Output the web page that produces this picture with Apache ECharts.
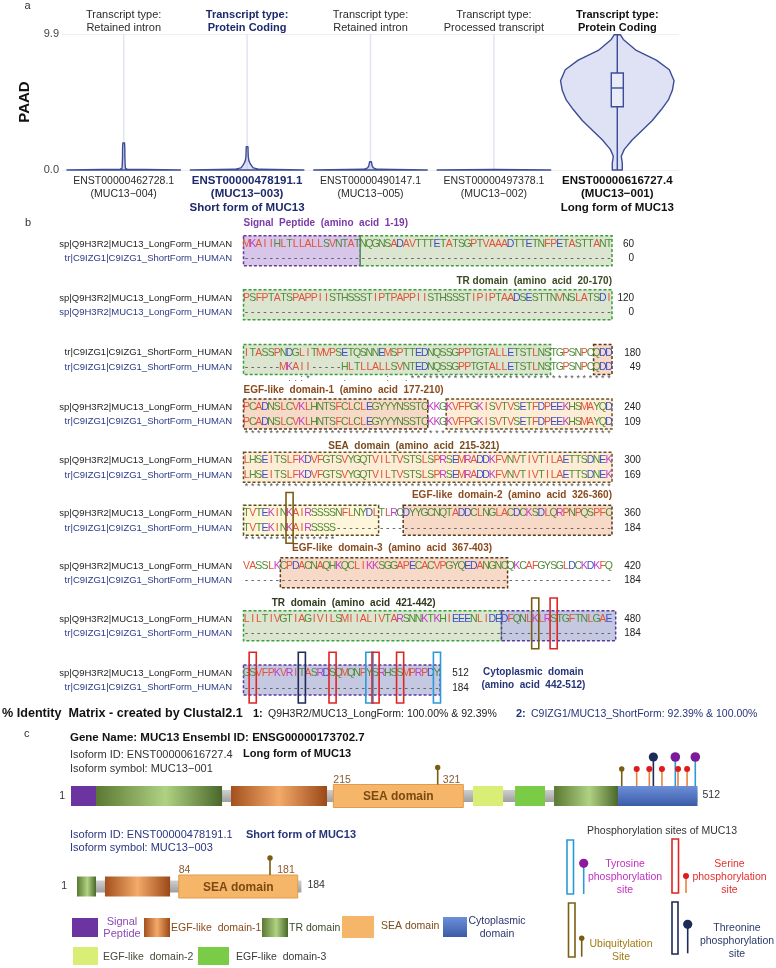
<!DOCTYPE html>
<html>
<head>
<meta charset="utf-8">
<title>MUC13 isoforms</title>
<script src="https://cdn.jsdelivr.net/npm/echarts@6/dist/echarts.min.js"></script>
<style>
html,body{margin:0;padding:0;background:#ffffff;}
#chart{width:776px;height:968px;}
</style>
</head>
<body>
<div id="chart"></div>
<script>
// ================= Panel a : violin data =================
const transcriptIds = ['ENST00000462728.1','ENST00000478191.1','ENST00000490147.1','ENST00000497378.1','ENST00000616727.4'];
const isoformSymbols = ['MUC13\u2212004','MUC13\u2212003','MUC13\u2212005','MUC13\u2212002','MUC13\u2212001'];
const transcriptTypes = ['Retained intron','Protein Coding','Retained intron','Processed transcript','Protein Coding'];
const formNotes = ['','Short form of MUC13','','','Long form of MUC13'];
const labelEmphasis = ['n','b','n','n','k'];
const yMin = 0, yMax = 9.9;
// expression values (log scale) and relative density (1 = widest)
const violinValues = [
  [0, 0.06, 0.12, 0.4, 1.0, 1.5, 1.96],
  [0, 0.05, 0.15, 0.3, 0.5, 0.7, 1.0, 1.7],
  [0, 0.05, 0.15, 0.3, 0.6],
  [0, 0.04],
  [0, 0.5, 1.0, 1.5, 2.2, 2.9, 3.6, 4.4, 5.1, 5.8, 6.5, 7.3, 8.0, 8.7, 9.5, 9.85]
];
const violinDensity = [
  [1, 0.06, 0.03, 0.025, 0.02, 0.02, 0.015],
  [1, 0.22, 0.11, 0.08, 0.05, 0.03, 0.02, 0.015],
  [1, 0.12, 0.05, 0.03, 0.015],
  [1, 0.02],
  [0.088, 0.088, 0.07, 0.123, 0.265, 0.44, 0.617, 0.776, 0.9, 0.97, 1.0, 0.917, 0.688, 0.335, 0.106, 0.053]
];
const boxQ1 = [0, 0, 0, 0, 4.6];
const boxMedian = [0, 0, 0, 0, 5.97];
const boxQ3 = [0, 0, 0, 0, 7.06];
const whiskerHigh = [1.96, 1.7, 0.6, 0.04, 9.85];

// ================= Panel b : alignment data =================
const seqLong = [
  'MKAIIHLTLLALLSVNTATNQGNSADAVTTTETATSGPTVAAADTTETNFPETASTTANT',
  'PSFPTATSPAPPIISTHSSSTIPTPAPPIISTHSSSTIPIPTAADSESTTNVNSLATSDI',
  'ITASSPNDGLITMVPSETQSNNEMSPTTEDNQSSGPPTGTALLETSTLNSTGPSNPCQDD',
  'PCADNSLCVKLHNTSFCLCLEGYYYNSSTCKKGKVFPGKISVTVSETFDPEEKHSMAYQD',
  'LHSEITSLFKDVFGTSVYGQTVILTVSTSLSPRSEMRADDKFVNVTIVTILAETTSDNEK',
  'TVTEKINKAIRSSSSNFLNYDLTLRCDYYGCNQTADDCLNGLACDCKSDLQRPNPQSPFC',
  'VASSLKCPDACNAQHKQCLIKKSGGAPECACVPGYQEDANGNCQKCAFGYSGLDCKDKFQ',
  'LILTIVGTIAGIVILSMIIALIVTARSNNKTKHIEEENLIDEDFQNLKLRSTGFTNLGAE',
  'GSVFPKVRITASRDSQMQNPYSRHSSMPRPDY'
];
const seqShort = [
  '------------------------------------------------------------',
  '------------------------------------------------------------',
  '------MKAII-----HLTLLALLSVNTEDNQSSGPPTGTALLETSTLNSTGPSNPCQDD',
  'PCADNSLCVKLHNTSFCLCLEGYYYNSSTCKKGKVFPGKISVTVSETFDPEEKHSMAYQD',
  'LHSEITSLFKDVFGTSVYGQTVILTVSTSLSPRSEMRADDKFVNVTIVTILAETTSDNEK',
  'TVTEKINKAIRSSSS---------------------------------------------',
  '------------------------------------------------------------',
  '------------------------------------------------------------',
  '--------------------------------'
];
const labelTop = ['sp|Q9H3R2|MUC13_LongForm_HUMAN','sp|Q9H3R2|MUC13_LongForm_HUMAN','tr|C9IZG1|C9IZG1_ShortForm_HUMAN',
  'sp|Q9H3R2|MUC13_LongForm_HUMAN','sp|Q9H3R2|MUC13_LongForm_HUMAN','sp|Q9H3R2|MUC13_LongForm_HUMAN',
  'sp|Q9H3R2|MUC13_LongForm_HUMAN','sp|Q9H3R2|MUC13_LongForm_HUMAN','sp|Q9H3R2|MUC13_LongForm_HUMAN'];
const labelBottom = ['tr|C9IZG1|C9IZG1_ShortForm_HUMAN','sp|Q9H3R2|MUC13_LongForm_HUMAN','tr|C9IZG1|C9IZG1_ShortForm_HUMAN',
  'tr|C9IZG1|C9IZG1_ShortForm_HUMAN','tr|C9IZG1|C9IZG1_ShortForm_HUMAN','tr|C9IZG1|C9IZG1_ShortForm_HUMAN',
  'tr|C9IZG1|C9IZG1_ShortForm_HUMAN','tr|C9IZG1|C9IZG1_ShortForm_HUMAN','tr|C9IZG1|C9IZG1_ShortForm_HUMAN'];
const endNumTop = [60, 120, 180, 240, 300, 360, 420, 480, 512];
const endNumBottom = [0, 0, 49, 109, 169, 184, 184, 184, 184];
const consensusMarks = ['', '',
  '       ..:*     .      :  .*********************************',
  '************************************************************',
  '************************************************************',
  '***************', '', '', ''];
// domain boxes: [block, startCol, endCol, type]
const alignDomains = [
  [0, 0, 19, 'signal'], [0, 19, 60, 'tr'],
  [1, 0, 60, 'tr'],
  [2, 0, 50, 'tr'], [2, 57, 60, 'egf'],
  [3, 0, 30, 'egf'], [3, 33, 60, 'sea'],
  [4, 0, 60, 'sea'],
  [5, 0, 22, 'sea2'], [5, 26, 60, 'egf'],
  [6, 6, 43, 'egf'],
  [7, 0, 42, 'tr'], [7, 42, 60.6, 'cyto'],
  [8, 0, 32, 'cyto']
];
// modification sites: [block, col, type]
const alignSites = [
  [5, 7, 'ubiq'], [7, 47, 'ubiq'], [7, 50, 'ser'],
  [8, 1, 'ser'], [8, 9, 'thr'], [8, 14, 'ser'], [8, 20, 'tyr'], [8, 21, 'ser'], [8, 25, 'ser'], [8, 31, 'tyr']
];
const domainNotes = [
  {text:'Signal  Peptide  (amino  acid  1-19)', block:0, col:0, dy:-1.41, align:'left', color:'#7b3aa8'},
  {text:'TR domain  (amino  acid  20-170)', block:1, col:60, dy:-1.17, align:'right', color:'#3b4a22'},
  {text:'EGF-like  domain-1  (amino  acid  177-210)', block:3, col:0, dy:-1.19, align:'left', color:'#8b4a1c'},
  {text:'SEA  domain  (amino  acid  215-321)', block:4, col:13.8, dy:-0.97, align:'left', color:'#7a4a1c'},
  {text:'EGF-like  domain-2  (amino  acid  326-360)', block:5, col:60, dy:-1.28, align:'right', color:'#8b4a1c'},
  {text:'EGF-like  domain-3  (amino  acid  367-403)', block:6, col:7.9, dy:-1.2, align:'left', color:'#8b4a1c'},
  {text:'TR  domain  (amino  acid  421-442)', block:7, col:4.6, dy:-1.1, align:'left', color:'#2f3a1e'},
  {text:'Cytoplasmic  domain', block:8, col:47.2, dy:-0.09, align:'center', color:'#26357a'},
  {text:'(amino  acid  442-512)', block:8, col:47.2, dy:0.8, align:'center', color:'#26357a'}
];
// layout: first-row position of each alignment block, in row units
const blockLayoutY = [0, 3.72, 7.5, 11.26, 14.93, 18.59, 22.21, 25.86, 29.61];

// ================= Panel c : domain architecture =================
const longLen = 512, shortLen = 184;
const longDomains = [[1, 21.4, 'signal'], [21.4, 124.2, 'tr'], [131.5, 209.8, 'egf1'], [215, 321, 'sea'],
  [328.9, 353.4, 'egf2'], [363.2, 387.6, 'egf3'], [395, 447.2, 'tr'], [447.2, 512, 'cyto']];
const shortDomains = [[1, 16.5, 'tr'], [23.8, 76.9, 'egf1'], [84, 181, 'sea']];
const longSites = [[300.1, 'ubiq'], [450.2, 'ubiq'], [462.4, 'ser'], [472.7, 'ser'], [476, 'thr'], [483, 'ser'],
  [493.9, 'tyr'], [496.1, 'ser'], [503.5, 'ser'], [510.2, 'tyr']];
const shortSites = [[158.4, 'ubiq']];
const longSeaBounds = [215, 321];
const shortSeaBounds = [84, 181];

// ================= helpers =================
const F = '"Liberation Sans", Arial, Helvetica, sans-serif';
function font(size, bold) { return (bold ? 'bold ' : '') + size + 'px ' + F; }
function T(x, y, text, size, fill, opts) {
  opts = opts || {};
  const a = opts.align || 'left';
  return {type:'text', x:x, y:y, silent:true, z:10,
    style:{text:text, font:font(size, opts.bold), fill:fill, align:a, textAlign:a, verticalAlign:'middle', textVerticalAlign:'middle'}};
}
function R(x, y, w, h, fill, stroke, lw) {
  return {type:'rect', silent:true, shape:{x:x, y:y, width:w, height:h},
    style:{fill:fill || 'none', stroke:stroke || 'none', lineWidth:lw || 1}};
}
const trGrad = () => new echarts.graphic.LinearGradient(0, 0, 1, 0, [{offset:0, color:'#5a7832'}, {offset:0.55, color:'#afd282'}, {offset:1, color:'#4a672a'}]);
const egfGrad = () => new echarts.graphic.LinearGradient(0, 0, 1, 0, [{offset:0, color:'#a3501d'}, {offset:0.5, color:'#f3aa6a'}, {offset:1, color:'#9b4817'}]);
const cytoGrad = () => new echarts.graphic.LinearGradient(0, 0, 0, 1, [{offset:0, color:'#6d8fd9'}, {offset:1, color:'#3b5ba7'}]);
const greyGrad = () => new echarts.graphic.LinearGradient(0, 0, 0, 1, [{offset:0, color:'#cfcfcf'}, {offset:1, color:'#9f9f9f'}]);
function domainFill(type) {
  switch (type) {
    case 'signal': return '#6b34a0';
    case 'tr': return trGrad();
    case 'egf1': return egfGrad();
    case 'sea': return '#f6b66a';
    case 'egf2': return '#d9ee74';
    case 'egf3': return '#7acb45';
    case 'cyto': return cytoGrad();
  }
  return '#ccc';
}
const boxStyles = {
  signal: {fill:'rgba(160,120,205,0.42)', stroke:'#6a3a9a'},
  tr: {fill:'rgba(175,198,150,0.45)', stroke:'#38a038'},
  egf: {fill:'rgba(240,180,145,0.5)', stroke:'#5a3a1a'},
  sea: {fill:'rgba(252,222,180,0.55)', stroke:'#6a5020'},
  sea2: {fill:'rgba(253,240,195,0.6)', stroke:'#5a4a1a'},
  cyto: {fill:'rgba(150,155,200,0.55)', stroke:'#5a3aa0'}
};
const siteColor = {ubiq:'#7a5c12', ser:'#e02424', thr:'#1e2a5a', tyr:'#2a9ad8'};
const siteStyle = {
  ubiq: {head:'#7a5c12', stem:'#7a5c12', r:2.7, h:17},
  ser: {head:'#e01b1b', stem:'#e8823a', r:3, h:17},
  thr: {head:'#1c2b5a', stem:'#1c2b5a', r:4.6, h:29},
  tyr: {head:'#7b1b9c', stem:'#2d9ad6', r:4.8, h:29}
};
const RES = {red:'#e0553a', green:'#4f8a36', blue:'#3c4fc4', mag:'#c23fc4', gap:'#555555'};
function resColor(ch) {
  if ('AVFPMILW'.indexOf(ch) >= 0) return RES.red;
  if ('DE'.indexOf(ch) >= 0) return RES.blue;
  if ('RK'.indexOf(ch) >= 0) return RES.mag;
  if ('STYHCNGQ'.indexOf(ch) >= 0) return RES.green;
  return RES.gap;
}

// ================= derived item lists =================
const residueItems = [];
seqLong.forEach((s, b) => {
  [s, seqShort[b]].forEach((row, r) => {
    for (let c = 0; c < row.length; c++) residueItems.push({col:c, y:blockLayoutY[b] + r, ch:row[c]});
  });
});
const alignTextItems = [];
seqLong.forEach((s, b) => {
  const y = blockLayoutY[b];
  alignTextItems.push({x:-1.85, y:y, text:labelTop[b], color:'#1e1e1e', size:9.5, align:'right'});
  alignTextItems.push({x:-1.85, y:y + 1, text:labelBottom[b], color:'#2c3a86', size:9.5, align:'right'});
  const off = b < 2 ? 3.6 : 4.7;
  alignTextItems.push({x:s.length + off, y:y, text:String(endNumTop[b]), color:'#222', size:10, align:'right'});
  alignTextItems.push({x:s.length + off, y:y + 1, text:String(endNumBottom[b]), color:'#222', size:10, align:'right'});
  const cm = consensusMarks[b];
  for (let c = 0; c < cm.length; c++) if (cm[c] !== ' ') alignTextItems.push({x:c + 0.5, y:y + 1.8, text:cm[c], color:'#555', size:9, align:'center'});
});
domainNotes.forEach(n => alignTextItems.push({x:n.col, y:blockLayoutY[n.block] + n.dy, text:n.text, color:n.color, size:10, align:n.align, bold:true}));

// ================= renderers =================
function renderViolin(params, api) {
  const i = params.dataIndex;
  const band = api.size([1, 0])[0];
  const hw = band * 0.46;
  const base = api.coord([i, yMin]);
  const cx = base[0];
  const top = api.coord([i, yMax])[1];
  const children = [{type:'line', shape:{x1:cx, y1:base[1], x2:cx, y2:top}, style:{stroke:'#e2e5f0', lineWidth:1.5}}];
  const vals = violinValues[i], dens = violinDensity[i];
  const right = [], left = [];
  for (let k = 0; k < vals.length; k++) {
    const py = api.coord([i, vals[k]])[1];
    right.push([cx + dens[k] * hw, py]);
    left.unshift([cx - dens[k] * hw, py]);
  }
  children.push({type:'polygon', shape:{points:right.concat(left)}, style:{fill:'rgba(178,186,228,0.42)', stroke:'#3c4d96', lineWidth:1.4, lineJoin:'round'}});
  if (boxQ3[i] > boxQ1[i]) {
    const yw = api.coord([i, whiskerHigh[i]])[1];
    children.push({type:'line', shape:{x1:cx, y1:base[1], x2:cx, y2:yw}, style:{stroke:'#3c4d96', lineWidth:1.4}});
    const y1 = api.coord([i, boxQ3[i]])[1], y0 = api.coord([i, boxQ1[i]])[1], ym = api.coord([i, boxMedian[i]])[1];
    const bh = hw * 0.106;
    children.push({type:'rect', shape:{x:cx - bh, y:y1, width:2 * bh, height:y0 - y1}, style:{fill:'#e9ebf6', stroke:'#3c4d96', lineWidth:1.4}});
    children.push({type:'line', shape:{x1:cx - bh, y1:ym, x2:cx + bh, y2:ym}, style:{stroke:'#3c4d96', lineWidth:1.4}});
  }
  return {type:'group', children:children};
}
function renderAlignBox(params, api) {
  const d = alignDomains[params.dataIndex];
  const y = blockLayoutY[d[0]];
  const p0 = api.coord([d[1], y - 0.57]), p1 = api.coord([d[2], y + 1.5]);
  const st = boxStyles[d[3]];
  return {type:'rect', shape:{x:p0[0], y:p0[1], width:p1[0] - p0[0], height:p1[1] - p0[1]},
    style:{fill:st.fill, stroke:st.stroke, lineWidth:1.5, lineDash:[3, 2]}};
}
function renderResidue(params, api) {
  const d = residueItems[params.dataIndex];
  const p = api.coord([d.col + 0.5, d.y]);
  return {type:'text', x:p[0], y:p[1], style:{text:d.ch, fill:resColor(d.ch), font:font(10.5), align:'center', textAlign:'center', verticalAlign:'middle', textVerticalAlign:'middle'}};
}
function renderAlignSite(params, api) {
  const d = alignSites[params.dataIndex];
  const y = blockLayoutY[d[0]];
  const p0 = api.coord([d[1] - 0.08, y - 1.45]), p1 = api.coord([d[1] + 1.08, y + 2.05]);
  return {type:'rect', shape:{x:p0[0], y:p0[1], width:p1[0] - p0[0], height:p1[1] - p0[1]},
    style:{fill:'none', stroke:siteColor[d[2]], lineWidth:1.6}};
}
function renderAlignText(params, api) {
  const d = alignTextItems[params.dataIndex];
  const p = api.coord([d.x, d.y]);
  return {type:'text', x:p[0], y:p[1], style:{text:d.text, fill:d.color, font:font(d.size, d.bold), align:d.align, textAlign:d.align, verticalAlign:'middle', textVerticalAlign:'middle'}};
}
function makeBackbone(len) {
  return function (params, api) {
    const a = api.coord([1, 0.5]), b = api.coord([len, 0.5]);
    return {type:'rect', shape:{x:a[0], y:a[1] - 6, width:b[0] - a[0], height:12}, style:{fill:greyGrad()}};
  };
}
function makeDomains(list) {
  return function (params, api) {
    const d = list[params.dataIndex];
    const a = api.coord([d[0], 0.5]), b = api.coord([d[1], 0.5]);
    const h = d[2] === 'sea' ? 23 : 20;
    return {type:'rect', shape:{x:a[0], y:a[1] - h / 2, width:b[0] - a[0], height:h},
      style:{fill:domainFill(d[2]), stroke:d[2] === 'sea' ? '#e39a4a' : 'none', lineWidth:1}};
  };
}
function makeSites(list, domains) {
  return function (params, api) {
    const s = list[params.dataIndex];
    const p = api.coord([s[0], 0.5]);
    const inSea = domains.some(d => d[2] === 'sea' && s[0] >= d[0] && s[0] <= d[1]);
    const baseY = p[1] - (inSea ? 11.5 : 10);
    const st = siteStyle[s[1]];
    const hy = baseY - st.h;
    return {type:'group', children:[
      {type:'line', shape:{x1:p[0], y1:baseY, x2:p[0], y2:hy}, style:{stroke:st.stem, lineWidth:1.6}},
      {type:'circle', shape:{cx:p[0], cy:hy, r:st.r}, style:{fill:st.head}}
    ]};
  };
}
function makeBarLabels(len, bounds, leftOff, rightOff) {
  const items = [
    {v:1, text:'1', dx:-leftOff, dy:0, align:'right', color:'#333'},
    {v:len, text:String(len), dx:rightOff, dy:-1, align:'left', color:'#333'},
    {v:bounds[0], text:String(bounds[0]), dx:0, dy:-16, align:'left', color:'#8a5a30'},
    {v:bounds[1], text:String(bounds[1]), dx:-3, dy:-16, align:'right', color:'#8a5a30'},
    {v:(bounds[0] + bounds[1]) / 2, text:'SEA domain', dx:0, dy:1, align:'center', color:'#7a4a12', bold:true, size:12}
  ];
  return {items:items, render:function (params, api) {
    const d = items[params.dataIndex];
    const p = api.coord([d.v, 0.5]);
    return {type:'text', x:p[0] + d.dx, y:p[1] + d.dy, style:{text:d.text, fill:d.color, font:font(d.size || 10.5, d.bold), align:d.align, textAlign:d.align, verticalAlign:'middle', textVerticalAlign:'middle'}};
  }};
}
const longLabels = makeBarLabels(longLen, longSeaBounds, 6, 5);
const shortLabels = makeBarLabels(shortLen, shortSeaBounds, 10, 6);

// ================= static texts / legend =================
const G = [];
G.push(T(24.5, 6, 'a', 11, '#333'));
G.push(T(25, 223, 'b', 11, '#333'));
G.push(T(24, 734, 'c', 11, '#333'));
// identity line
G.push(T(2, 714, '% Identity  Matrix - created by Clustal2.1', 12.6, '#111', {bold:true}));
G.push(T(253, 714, '1:', 11, '#111', {bold:true}));
G.push(T(268, 714, 'Q9H3R2/MUC13_LongForm: 100.00% & 92.39%', 10.5, '#222'));
G.push(T(516, 714, '2:', 11, '#26357a', {bold:true}));
G.push(T(531, 714, 'C9IZG1/MUC13_ShortForm: 92.39% & 100.00%', 10.5, '#26357a'));
// panel c headers
G.push(T(70, 738, 'Gene Name: MUC13 Ensembl ID: ENSG00000173702.7', 11.5, '#111', {bold:true}));
G.push(T(70, 755, 'Isoform ID: ENST00000616727.4', 11, '#333'));
G.push(T(70, 769, 'Isoform symbol: MUC13\u2212001', 11, '#333'));
G.push(T(243, 754, 'Long form of MUC13', 11, '#111', {bold:true}));
G.push(T(70, 835, 'Isoform ID: ENST00000478191.1', 11, '#2b3680'));
G.push(T(70, 847.5, 'Isoform symbol: MUC13\u2212003', 11, '#2b3680'));
G.push(T(246, 835, 'Short form of MUC13', 11, '#26357a', {bold:true}));
// domain legend
G.push(R(72, 918, 26, 19, '#6b34a0'));
G.push(T(122, 922, 'Signal', 11, '#8a4ab5', {align:'center'}));
G.push(T(122, 934, 'Peptide', 11, '#8a4ab5', {align:'center'}));
G.push(R(144, 918, 26, 19, egfGrad()));
G.push(T(171, 928, 'EGF-like  domain-1', 10.5, '#8a4a1a'));
G.push(R(262, 918, 26, 19, trGrad()));
G.push(T(289, 928, 'TR domain', 10.5, '#3a4a2a'));
G.push(R(342, 916, 32, 22, '#f6b66a'));
G.push(T(381, 926, 'SEA domain', 10.5, '#7a4a1a'));
G.push(R(443, 917, 24, 20, cytoGrad()));
G.push(T(497, 921, 'Cytoplasmic', 10.5, '#2a3570', {align:'center'}));
G.push(T(497, 934, 'domain', 10.5, '#2a3570', {align:'center'}));
G.push(R(73, 947, 25, 18, '#d9ee74'));
G.push(T(103, 957, 'EGF-like  domain-2', 10.5, '#4a4a3a'));
G.push(R(198, 947, 31, 18, '#7acb45'));
G.push(T(236, 957, 'EGF-like  domain-3', 10.5, '#3a3a3a'));
// phosphorylation legend
G.push(T(662, 831, 'Phosphorylation sites of MUC13', 10.5, '#333', {align:'center'}));
G.push(R(567, 840, 6.5, 54, 'none', '#2a9ad8', 1.6));
G.push({type:'line', silent:true, shape:{x1:583.7, y1:867, x2:583.7, y2:894}, style:{stroke:'#2d9ad6', lineWidth:1.6}});
G.push({type:'circle', silent:true, shape:{cx:583.7, cy:863.3, r:4.6}, style:{fill:'#8a1aa0'}});
G.push(T(625, 864, 'Tyrosine', 10.5, '#c030c0', {align:'center'}));
G.push(T(625, 877, 'phosphorylation', 10.5, '#c030c0', {align:'center'}));
G.push(T(625, 890, 'site', 10.5, '#c030c0', {align:'center'}));
G.push(R(672, 839, 6.5, 54, 'none', '#e02424', 1.6));
G.push({type:'line', silent:true, shape:{x1:686, y1:878, x2:686, y2:893}, style:{stroke:'#e8823a', lineWidth:1.6}});
G.push({type:'circle', silent:true, shape:{cx:686, cy:876, r:3}, style:{fill:'#e01b1b'}});
G.push(T(729.5, 864, 'Serine', 10.5, '#e03030', {align:'center'}));
G.push(T(729.5, 877, 'phosphorylation', 10.5, '#e03030', {align:'center'}));
G.push(T(729.5, 890, 'site', 10.5, '#e03030', {align:'center'}));
G.push(R(568.5, 903, 6.5, 54, 'none', '#7a6010', 1.6));
G.push({type:'line', silent:true, shape:{x1:581.7, y1:940, x2:581.7, y2:956.7}, style:{stroke:'#7a5c12', lineWidth:1.6}});
G.push({type:'circle', silent:true, shape:{cx:581.7, cy:938.3, r:2.7}, style:{fill:'#7a5c12'}});
G.push(T(621, 944, 'Ubiquitylation', 10.5, '#a07a10', {align:'center'}));
G.push(T(621, 957, 'Site', 10.5, '#a07a10', {align:'center'}));
G.push(R(672, 902, 6, 52, 'none', '#1e2a5a', 1.6));
G.push({type:'line', silent:true, shape:{x1:687.7, y1:928, x2:687.7, y2:953.3}, style:{stroke:'#1c2b5a', lineWidth:1.6}});
G.push({type:'circle', silent:true, shape:{cx:687.7, cy:924.3, r:4.6}, style:{fill:'#1c2b5a'}});
G.push(T(737, 928, 'Threonine', 10.5, '#2a3a6a', {align:'center'}));
G.push(T(737, 941, 'phosphorylation', 10.5, '#2a3a6a', {align:'center'}));
G.push(T(737, 954, 'site', 10.5, '#2a3a6a', {align:'center'}));

// ================= chart =================
const richBottom = {
  n:{fontSize:10.5, color:'#2b2b2b', lineHeight:13.5, fontFamily:F},
  b:{fontSize:11.5, fontWeight:'bold', color:'#1d2a6b', lineHeight:13.5, fontFamily:F},
  k:{fontSize:11.5, fontWeight:'bold', color:'#111', lineHeight:13.5, fontFamily:F}
};
const richTop = {
  n:{fontSize:11, color:'#2b2b2b', lineHeight:12.5, fontFamily:F},
  b:{fontSize:11, fontWeight:'bold', color:'#1d2a6b', lineHeight:12.5, fontFamily:F},
  k:{fontSize:11, fontWeight:'bold', color:'#111', lineHeight:12.5, fontFamily:F}
};
const catIdx = transcriptIds.map((_, i) => String(i));

const chart = echarts.init(document.getElementById('chart'), null, {renderer:'canvas', width:776, height:968});
chart.setOption({
  animation:false,
  backgroundColor:'#ffffff',
  textStyle:{fontFamily:F},
  grid:[
    {left:62, top:34, width:617, height:136},
    {left:243.5, top:222.25, width:368.5, height:493},
    {left:71, top:786, width:626.5, height:20},
    {left:77, top:876.5, width:224.4, height:20}
  ],
  xAxis:[
    {gridIndex:0, type:'category', data:catIdx, position:'bottom', axisLine:{show:false}, axisTick:{show:false}, splitLine:{show:false},
      axisLabel:{interval:0, margin:4, rich:richBottom, formatter:(v) => {
        const i = +v, s = labelEmphasis[i];
        let t = '{' + s + '|' + transcriptIds[i] + '}\n{' + s + '|(' + isoformSymbols[i] + ')}';
        if (formNotes[i]) t += '\n{' + s + '|' + formNotes[i] + '}';
        return t;
      }}},
    {gridIndex:0, type:'category', data:catIdx, position:'top', axisLine:{show:false}, axisTick:{show:false}, splitLine:{show:false},
      axisLabel:{interval:0, margin:0, rich:richTop, formatter:(v) => {
        const i = +v, s = labelEmphasis[i];
        return '{' + s + '|Transcript type:}\n{' + s + '|' + transcriptTypes[i] + '}';
      }}},
    {gridIndex:1, type:'value', min:0, max:60, show:false},
    {gridIndex:2, type:'value', min:1, max:longLen, show:false},
    {gridIndex:3, type:'value', min:1, max:shortLen, show:false}
  ],
  yAxis:[
    {gridIndex:0, type:'value', min:yMin, max:yMax, interval:9.9, name:'PAAD', nameLocation:'middle', nameRotate:90, nameGap:4,
      nameTextStyle:{fontSize:15, fontWeight:'bold', color:'#111', fontFamily:F},
      axisLine:{show:false}, axisTick:{show:false},
      axisLabel:{margin:3, fontSize:11, color:'#444', formatter:(v) => v.toFixed(1)},
      splitLine:{show:true, lineStyle:{color:'#eceef4', width:1}}},
    {gridIndex:1, type:'value', min:-1.5, max:32.5, inverse:true, show:false},
    {gridIndex:2, type:'value', min:0, max:1, show:false},
    {gridIndex:3, type:'value', min:0, max:1, show:false}
  ],
  series:[
    {type:'custom', name:'violin', xAxisIndex:0, yAxisIndex:0, silent:true, renderItem:renderViolin,
      data:transcriptIds.map((_, i) => [i, 0]), z:3},
    {type:'custom', xAxisIndex:2, yAxisIndex:1, silent:true, renderItem:renderAlignBox,
      data:alignDomains.map(d => [d[1], blockLayoutY[d[0]]]), z:2},
    {type:'custom', xAxisIndex:2, yAxisIndex:1, silent:true, renderItem:renderResidue,
      data:residueItems.map(d => [d.col + 0.5, d.y]), z:3},
    {type:'custom', xAxisIndex:2, yAxisIndex:1, silent:true, renderItem:renderAlignSite,
      data:alignSites.map(d => [d[1], blockLayoutY[d[0]]]), z:4},
    {type:'custom', xAxisIndex:2, yAxisIndex:1, silent:true, renderItem:renderAlignText,
      data:alignTextItems.map(d => [d.x, d.y]), z:4},
    {type:'custom', xAxisIndex:3, yAxisIndex:2, silent:true, renderItem:makeBackbone(longLen), data:[[1, 0.5]], z:2},
    {type:'custom', xAxisIndex:3, yAxisIndex:2, silent:true, renderItem:makeDomains(longDomains),
      data:longDomains.map(d => [d[0], 0.5]), z:3},
    {type:'custom', xAxisIndex:3, yAxisIndex:2, silent:true, renderItem:makeSites(longSites, longDomains),
      data:longSites.map(s => [s[0], 0.5]), z:4},
    {type:'custom', xAxisIndex:3, yAxisIndex:2, silent:true, renderItem:longLabels.render,
      data:longLabels.items.map(d => [d.v, 0.5]), z:5},
    {type:'custom', xAxisIndex:4, yAxisIndex:3, silent:true, renderItem:makeBackbone(shortLen), data:[[1, 0.5]], z:2},
    {type:'custom', xAxisIndex:4, yAxisIndex:3, silent:true, renderItem:makeDomains(shortDomains),
      data:shortDomains.map(d => [d[0], 0.5]), z:3},
    {type:'custom', xAxisIndex:4, yAxisIndex:3, silent:true, renderItem:makeSites(shortSites, shortDomains),
      data:shortSites.map(s => [s[0], 0.5]), z:4},
    {type:'custom', xAxisIndex:4, yAxisIndex:3, silent:true, renderItem:shortLabels.render,
      data:shortLabels.items.map(d => [d.v, 0.5]), z:5}
  ],
  graphic:{elements:G}
});
</script>
</body>
</html>
